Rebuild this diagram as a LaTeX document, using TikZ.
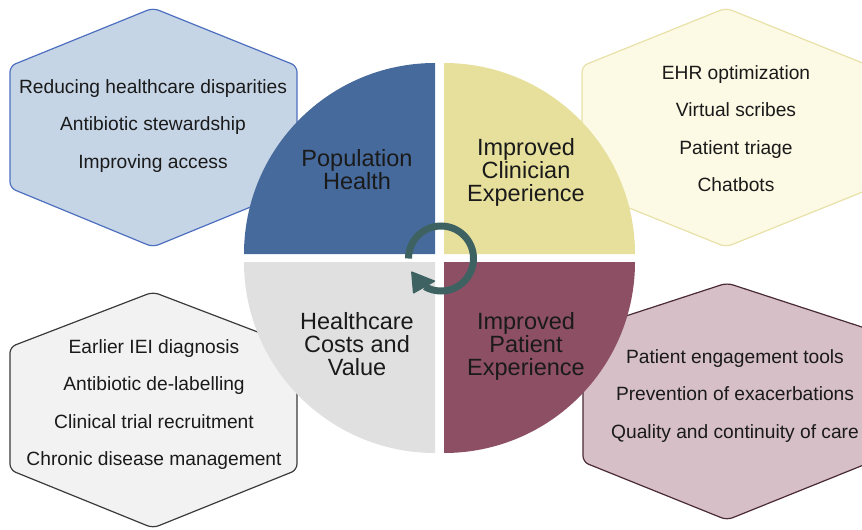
\documentclass[tikz,border=0pt]{standalone}
\usepackage{fontspec}
\setmainfont{Liberation Sans}

% palette
\definecolor{ink}{HTML}{1A1A1A}
\definecolor{popfill}{HTML}{466A9C}
\definecolor{clinfill}{HTML}{E7E09C}
\definecolor{costfill}{HTML}{E0E0E0}
\definecolor{patfill}{HTML}{8C4F63}
\definecolor{cyclecol}{HTML}{3E6262}
\definecolor{hexAfill}{HTML}{C6D5E6}
\definecolor{hexAline}{HTML}{4D6FBF}
\definecolor{hexBfill}{HTML}{FCF9E4}
\definecolor{hexBline}{HTML}{E8E1A8}
\definecolor{hexCfill}{HTML}{F2F2F2}
\definecolor{hexCline}{HTML}{3A3A3A}
\definecolor{hexDfill}{HTML}{D6BFC7}
\definecolor{hexDline}{HTML}{4A2A35}

\begin{document}
\begin{tikzpicture}[x=1pt,y=-1pt,
  hexagon/.style={line width=1.2pt, rounded corners=6pt},
  item/.style={font=\fontsize{19.2}{23}\selectfont, text=ink, anchor=base, inner sep=0pt},
  qlabel/.style={font=\fontsize{23.5}{23}\selectfont, text=ink, anchor=base, inner sep=0pt}]

\clip (0,0) rectangle (862,530);

% ---- hexagons behind the wheel ----
\filldraw[hexagon, fill=hexAfill, draw=hexAline]
  (153,8) -- (297,66) -- (297,188) -- (153,247) -- (10,188) -- (10,66) -- cycle;
\filldraw[hexagon, fill=hexBfill, draw=hexBline]
  (726,8) -- (870,66) -- (870,189) -- (726,247) -- (582,189) -- (582,66) -- cycle;
\filldraw[hexagon, fill=hexCfill, draw=hexCline]
  (153,292) -- (297,347) -- (297,470) -- (153,528) -- (10,470) -- (10,347) -- cycle;
\filldraw[hexagon, fill=hexDfill, draw=hexDline]
  (727,283) -- (871,330) -- (871,462) -- (727,520) -- (583,462) -- (583,330) -- cycle;

% ---- the four quadrants of the wheel ----
\fill[popfill]  (435,254) -- ++(180:191) arc[start angle=180, end angle=270, radius=191] -- cycle;
\fill[clinfill] (444,254) -- ++(270:191) arc[start angle=270, end angle=360, radius=191] -- cycle;
\fill[patfill]  (444,262) -- ++(0:191)   arc[start angle=0,   end angle=90,  radius=191] -- cycle;
\fill[costfill] (435,262) -- ++(90:191)  arc[start angle=90,  end angle=180, radius=191] -- cycle;

% ---- cycle arrow in the middle ----
\coordinate (hub) at (441,258.5);
\draw[cyclecol, line width=7pt] (hub) ++(180:32.5)
  arc[start angle=180, end angle=480, radius=32.5];
\fill[cyclecol, rounded corners=1pt] (411,271) -- (413,294) -- (436,281) -- cycle;

% ---- quadrant titles ----
\node[qlabel] (pop1) at (357,166) {Population};
\node[qlabel] (pop2) at (357,189) {Health};
\node[qlabel] (clin1) at (526,155) {Improved};
\node[qlabel] (clin2) at (526,178) {Clinician};
\node[qlabel] (clin3) at (526,201) {Experience};
\node[qlabel] (cost1) at (357,329) {Healthcare};
\node[qlabel] (cost2) at (357,352) {Costs and};
\node[qlabel] (cost3) at (357,375) {Value};
\node[qlabel] (pat1) at (526,329) {Improved};
\node[qlabel] (pat2) at (526,352) {Patient};
\node[qlabel] (pat3) at (526,375) {Experience};

% ---- hexagon contents ----
\foreach \t [count=\i] in {Reducing healthcare disparities, Antibiotic stewardship, Improving access}
  \node[item] (popitem\i) at (153,{93+37.5*(\i-1)}) {\t};
\foreach \t [count=\i] in {EHR optimization, Virtual scribes, Patient triage, Chatbots}
  \node[item] (clinitem\i) at (736,{79+37.5*(\i-1)}) {\t};
\foreach \t [count=\i] in {Earlier IEI diagnosis, Antibiotic de-labelling, Clinical trial recruitment, Chronic disease management}
  \node[item] (costitem\i) at (154,{353+37.5*(\i-1)}) {\t};
\foreach \t [count=\i] in {Patient engagement tools, Prevention of exacerbations, Quality and continuity of care}
  \node[item] (patitem\i) at (735,{363+37.5*(\i-1)}) {\t};

\end{tikzpicture}
\end{document}
